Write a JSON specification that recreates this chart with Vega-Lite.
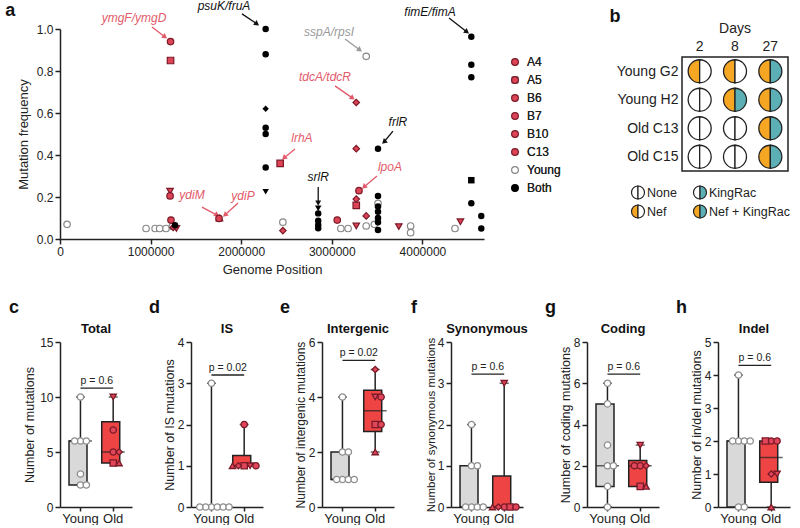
{
"$schema":"https://vega.github.io/schema/vega-lite/v6.json",
"background":"white",
"padding":{"left":5,"top":0,"right":5,"bottom":0},
"config":{"font":"Liberation Sans, Arial, sans-serif","view":{"stroke":null},
"axis":{"domainColor":"#222","tickColor":"#222","domainWidth":1.5,"tickWidth":1.5,"tickSize":5,"labelColor":"#222","titleColor":"#222","grid":false,"titleFontWeight":"normal","labelFontSize":12,"titleFontSize":13,"labelOverlap":false},
"title":{"color":"#111"},"legend":{"labelColor":"#222"}},
"datasets":{
"mut":[
{"pos":78000,"freq":0.07,"series":"Young","pop":"Young"},
{"pos":950000,"freq":0.05,"series":"Young","pop":"Young"},
{"pos":1050000,"freq":0.05,"series":"Young","pop":"Young"},
{"pos":1100000,"freq":0.05,"series":"Young","pop":"Young"},
{"pos":1170000,"freq":0.05,"series":"Young","pop":"Young"},
{"pos":1240000,"freq":0.06,"series":"Young","pop":"Young"},
{"pos":2460000,"freq":0.08,"series":"Young","pop":"Young"},
{"pos":3100000,"freq":0.05,"series":"Young","pop":"Young"},
{"pos":3180000,"freq":0.05,"series":"Young","pop":"Young"},
{"pos":3380000,"freq":0.87,"series":"Young","pop":"Young"},
{"pos":3380000,"freq":0.062,"series":"Young","pop":"Young"},
{"pos":3470000,"freq":0.07,"series":"Young","pop":"Young"},
{"pos":3510000,"freq":0.17,"series":"Young","pop":"Young"},
{"pos":3870000,"freq":0.062,"series":"Young","pop":"Young"},
{"pos":3870000,"freq":0.03,"series":"Young","pop":"Young"},
{"pos":4360000,"freq":0.05,"series":"Young","pop":"Young"},
{"pos":1220000,"freq":0.94,"series":"A4","pop":"A4"},
{"pos":1220000,"freq":0.85,"series":"A5","pop":"A5"},
{"pos":1215000,"freq":0.228,"series":"B6","pop":"B6"},
{"pos":1215000,"freq":0.205,"series":"B10","pop":"B10"},
{"pos":1225000,"freq":0.09,"series":"A4","pop":"A4"},
{"pos":1250000,"freq":0.055,"series":"B7","pop":"B7"},
{"pos":1285000,"freq":0.05,"series":"B6","pop":"B6"},
{"pos":1760000,"freq":0.1,"series":"C13","pop":"C13"},
{"pos":1755000,"freq":0.098,"series":"B10","pop":"B10"},
{"pos":2430000,"freq":0.36,"series":"A5","pop":"A5"},
{"pos":2460000,"freq":0.04,"series":"B7","pop":"B7"},
{"pos":3060000,"freq":0.09,"series":"A4","pop":"A4"},
{"pos":3270000,"freq":0.65,"series":"B7","pop":"B7"},
{"pos":3270000,"freq":0.43,"series":"B7","pop":"B7"},
{"pos":3300000,"freq":0.23,"series":"B10","pop":"B10"},
{"pos":3270000,"freq":0.19,"series":"B7","pop":"B7"},
{"pos":3270000,"freq":0.16,"series":"A5","pop":"A5"},
{"pos":3380000,"freq":0.11,"series":"B7","pop":"B7"},
{"pos":3270000,"freq":0.062,"series":"B6","pop":"B6"},
{"pos":3740000,"freq":0.059,"series":"B6","pop":"B6"},
{"pos":4420000,"freq":0.082,"series":"B6","pop":"B6"},
{"pos":1270000,"freq":0.065,"series":"Both","pop":"A4"},
{"pos":2270000,"freq":1.0,"series":"Both","pop":"A4"},
{"pos":2270000,"freq":0.88,"series":"Both","pop":"A4"},
{"pos":2270000,"freq":0.62,"series":"Both","pop":"B7"},
{"pos":2270000,"freq":0.53,"series":"Both","pop":"A4"},
{"pos":2270000,"freq":0.5,"series":"Both","pop":"A4"},
{"pos":2270000,"freq":0.34,"series":"Both","pop":"A4"},
{"pos":2270000,"freq":0.225,"series":"Both","pop":"B6"},
{"pos":2850000,"freq":0.146,"series":"Both","pop":"B6"},
{"pos":2850000,"freq":0.122,"series":"Both","pop":"A4"},
{"pos":2850000,"freq":0.087,"series":"Both","pop":"A4"},
{"pos":2850000,"freq":0.067,"series":"Both","pop":"A4"},
{"pos":2850000,"freq":0.051,"series":"Both","pop":"A4"},
{"pos":3510000,"freq":0.43,"series":"Both","pop":"A4"},
{"pos":3510000,"freq":0.205,"series":"Both","pop":"A4"},
{"pos":3510000,"freq":0.155,"series":"Both","pop":"A4"},
{"pos":3510000,"freq":0.13,"series":"Both","pop":"A4"},
{"pos":3510000,"freq":0.1,"series":"Both","pop":"A4"},
{"pos":3510000,"freq":0.08,"series":"Both","pop":"A4"},
{"pos":3510000,"freq":0.043,"series":"Both","pop":"A4"},
{"pos":4540000,"freq":0.963,"series":"Both","pop":"A4"},
{"pos":4540000,"freq":0.83,"series":"Both","pop":"A4"},
{"pos":4540000,"freq":0.77,"series":"Both","pop":"A4"},
{"pos":4540000,"freq":0.28,"series":"Both","pop":"A5"},
{"pos":4540000,"freq":0.17,"series":"Both","pop":"A4"},
{"pos":4650000,"freq":0.11,"series":"Both","pop":"A4"},
{"pos":4650000,"freq":0.05,"series":"Both","pop":"A4"}
],
"annos":[
{"label":"ymgF/ymgD","cat":"old","lx":817000,"ly":1.052,"ax":1015000,"ay":1.01,"bx":1159000,"by":0.962,"dir":"se"},
{"label":"psuK/fruA","cat":"both","lx":1810000,"ly":1.108,"ax":2009000,"ay":1.072,"bx":2174000,"by":1.024,"dir":"se"},
{"label":"ydiM","cat":"old","lx":1457000,"ly":0.21,"ax":1567000,"ay":0.152,"bx":1733000,"by":0.114,"dir":"se"},
{"label":"ydiP","cat":"old","lx":2020000,"ly":0.205,"ax":1965000,"ay":0.171,"bx":1820000,"by":0.114,"dir":"sw"},
{"label":"sspA/rpsI","cat":"young","lx":2970000,"ly":0.986,"ax":3146000,"ay":0.952,"bx":3310000,"by":0.9,"dir":"se"},
{"label":"tdcA/tdcR","cat":"old","lx":2925000,"ly":0.771,"ax":3035000,"ay":0.729,"bx":3230000,"by":0.671,"dir":"se"},
{"label":"lrhA","cat":"old","lx":2670000,"ly":0.48,"ax":2594000,"ay":0.429,"bx":2472000,"by":0.386,"dir":"sw"},
{"label":"srlR","cat":"both","lx":2850000,"ly":0.295,"ax":2850000,"ay":0.248,"bx":2850000,"by":0.171,"dir":"s"},
{"label":"frlR","cat":"both","lx":3730000,"ly":0.557,"ax":3675000,"ay":0.514,"bx":3576000,"by":0.462,"dir":"sw"},
{"label":"lpoA","cat":"old","lx":3642000,"ly":0.343,"ax":3499000,"ay":0.3,"bx":3355000,"by":0.248,"dir":"sw"},
{"label":"fimE/fimA","cat":"both","lx":4084000,"ly":1.081,"ax":4294000,"ay":1.052,"bx":4492000,"by":0.986,"dir":"se"}
],
"plasmids":[
{"line":"Young G2","day":"2","nef":"yes","kingrac":"no"},
{"line":"Young G2","day":"8","nef":"yes","kingrac":"no"},
{"line":"Young G2","day":"27","nef":"yes","kingrac":"yes"},
{"line":"Young H2","day":"2","nef":"no","kingrac":"no"},
{"line":"Young H2","day":"8","nef":"yes","kingrac":"yes"},
{"line":"Young H2","day":"27","nef":"yes","kingrac":"yes"},
{"line":"Old C13","day":"2","nef":"no","kingrac":"no"},
{"line":"Old C13","day":"8","nef":"no","kingrac":"no"},
{"line":"Old C13","day":"27","nef":"yes","kingrac":"yes"},
{"line":"Old C15","day":"2","nef":"no","kingrac":"no"},
{"line":"Old C15","day":"8","nef":"no","kingrac":"no"},
{"line":"Old C15","day":"27","nef":"yes","kingrac":"yes"}
],
"plasmidKey":[
{"state":"None","nef":"no","kingrac":"no"},
{"state":"KingRac","nef":"no","kingrac":"yes"},
{"state":"Nef","nef":"yes","kingrac":"no"},
{"state":"Nef + KingRac","nef":"yes","kingrac":"yes"}
],
"boxes":[
{"panel":"Total","group":"Young","min":2,"q1":2,"median":6,"q3":6,"max":10},
{"panel":"Total","group":"Old","min":4,"q1":4,"median":5,"q3":7.75,"max":10},
{"panel":"IS","group":"Young","min":0,"q1":0,"median":0,"q3":0,"max":3},
{"panel":"IS","group":"Old","min":1,"q1":1,"median":1,"q3":1.25,"max":2},
{"panel":"Intergenic","group":"Young","min":1,"q1":1,"median":1,"q3":2,"max":4},
{"panel":"Intergenic","group":"Old","min":2,"q1":2.75,"median":3.5,"q3":4.25,"max":5},
{"panel":"Synonymous","group":"Young","min":0,"q1":0,"median":0,"q3":1,"max":2},
{"panel":"Synonymous","group":"Old","min":0,"q1":0,"median":0,"q3":0.75,"max":3},
{"panel":"Coding","group":"Young","min":0,"q1":1,"median":2,"q3":5,"max":6},
{"panel":"Coding","group":"Old","min":1,"q1":1,"median":2,"q3":2.25,"max":3},
{"panel":"Indel","group":"Young","min":0,"q1":0,"median":2,"q3":2,"max":4},
{"panel":"Indel","group":"Old","min":0,"q1":0.75,"median":1.5,"q3":2,"max":2}
],
"pvals":[
{"panel":"Total","group":"Young","to":"Old","label":"p = 0.6","level":10.8},
{"panel":"IS","group":"Young","to":"Old","label":"p = 0.02","level":3.2},
{"panel":"Intergenic","group":"Young","to":"Old","label":"p = 0.02","level":5.33},
{"panel":"Synonymous","group":"Young","to":"Old","label":"p = 0.6","level":3.22},
{"panel":"Coding","group":"Young","to":"Old","label":"p = 0.6","level":6.44},
{"panel":"Indel","group":"Young","to":"Old","label":"p = 0.6","level":4.29}
],
"pts":[
{"panel":"Total","group":"Young","pop":"Young","value":10},
{"panel":"Total","group":"Young","pop":"Young","value":6},
{"panel":"Total","group":"Young","pop":"Young","value":6},
{"panel":"Total","group":"Young","pop":"Young","value":6},
{"panel":"Total","group":"Young","pop":"Young","value":3},
{"panel":"Total","group":"Young","pop":"Young","value":2},
{"panel":"Total","group":"Young","pop":"Young","value":2},
{"panel":"Total","group":"Old","pop":"B6","value":10},
{"panel":"Total","group":"Old","pop":"A4","value":7},
{"panel":"Total","group":"Old","pop":"B10","value":5},
{"panel":"Total","group":"Old","pop":"B7","value":5},
{"panel":"Total","group":"Old","pop":"A5","value":4},
{"panel":"Total","group":"Old","pop":"C13","value":4},
{"panel":"IS","group":"Young","pop":"Young","value":3},
{"panel":"IS","group":"Young","pop":"Young","value":0},
{"panel":"IS","group":"Young","pop":"Young","value":0},
{"panel":"IS","group":"Young","pop":"Young","value":0},
{"panel":"IS","group":"Young","pop":"Young","value":0},
{"panel":"IS","group":"Young","pop":"Young","value":0},
{"panel":"IS","group":"Young","pop":"Young","value":0},
{"panel":"IS","group":"Old","pop":"A4","value":2},
{"panel":"IS","group":"Old","pop":"A5","value":1},
{"panel":"IS","group":"Old","pop":"B6","value":1},
{"panel":"IS","group":"Old","pop":"B7","value":1},
{"panel":"IS","group":"Old","pop":"B10","value":1},
{"panel":"IS","group":"Old","pop":"C13","value":1},
{"panel":"Intergenic","group":"Young","pop":"Young","value":4},
{"panel":"Intergenic","group":"Young","pop":"Young","value":2},
{"panel":"Intergenic","group":"Young","pop":"Young","value":2},
{"panel":"Intergenic","group":"Young","pop":"Young","value":1},
{"panel":"Intergenic","group":"Young","pop":"Young","value":1},
{"panel":"Intergenic","group":"Young","pop":"Young","value":1},
{"panel":"Intergenic","group":"Young","pop":"Young","value":1},
{"panel":"Intergenic","group":"Old","pop":"B7","value":5},
{"panel":"Intergenic","group":"Old","pop":"B6","value":4},
{"panel":"Intergenic","group":"Old","pop":"A4","value":4},
{"panel":"Intergenic","group":"Old","pop":"A5","value":3},
{"panel":"Intergenic","group":"Old","pop":"B10","value":3},
{"panel":"Intergenic","group":"Old","pop":"C13","value":2},
{"panel":"Synonymous","group":"Young","pop":"Young","value":2},
{"panel":"Synonymous","group":"Young","pop":"Young","value":1},
{"panel":"Synonymous","group":"Young","pop":"Young","value":1},
{"panel":"Synonymous","group":"Young","pop":"Young","value":0},
{"panel":"Synonymous","group":"Young","pop":"Young","value":0},
{"panel":"Synonymous","group":"Young","pop":"Young","value":0},
{"panel":"Synonymous","group":"Young","pop":"Young","value":0},
{"panel":"Synonymous","group":"Old","pop":"B6","value":3},
{"panel":"Synonymous","group":"Old","pop":"A4","value":0},
{"panel":"Synonymous","group":"Old","pop":"A5","value":0},
{"panel":"Synonymous","group":"Old","pop":"B7","value":0},
{"panel":"Synonymous","group":"Old","pop":"B10","value":0},
{"panel":"Synonymous","group":"Old","pop":"C13","value":0},
{"panel":"Coding","group":"Young","pop":"Young","value":6},
{"panel":"Coding","group":"Young","pop":"Young","value":5},
{"panel":"Coding","group":"Young","pop":"Young","value":3},
{"panel":"Coding","group":"Young","pop":"Young","value":2},
{"panel":"Coding","group":"Young","pop":"Young","value":2},
{"panel":"Coding","group":"Young","pop":"Young","value":1},
{"panel":"Coding","group":"Young","pop":"Young","value":0},
{"panel":"Coding","group":"Old","pop":"B6","value":3},
{"panel":"Coding","group":"Old","pop":"A4","value":2},
{"panel":"Coding","group":"Old","pop":"B7","value":2},
{"panel":"Coding","group":"Old","pop":"B10","value":2},
{"panel":"Coding","group":"Old","pop":"A5","value":1},
{"panel":"Coding","group":"Old","pop":"C13","value":1},
{"panel":"Indel","group":"Young","pop":"Young","value":4},
{"panel":"Indel","group":"Young","pop":"Young","value":2},
{"panel":"Indel","group":"Young","pop":"Young","value":2},
{"panel":"Indel","group":"Young","pop":"Young","value":2},
{"panel":"Indel","group":"Young","pop":"Young","value":2},
{"panel":"Indel","group":"Young","pop":"Young","value":0},
{"panel":"Indel","group":"Young","pop":"Young","value":0},
{"panel":"Indel","group":"Old","pop":"A4","value":2},
{"panel":"Indel","group":"Old","pop":"B10","value":2},
{"panel":"Indel","group":"Old","pop":"A5","value":2},
{"panel":"Indel","group":"Old","pop":"B7","value":1},
{"panel":"Indel","group":"Old","pop":"B6","value":1},
{"panel":"Indel","group":"Old","pop":"C13","value":0}
]
},
"resolve":{"scale":{"color":"independent","fill":"independent","stroke":"independent","shape":"independent"}},
"spacing":23,
"vconcat":[
{"concat":[
{
"title":{"text":"a","anchor":"start","fontSize":18,"fontWeight":"bold","dx":-12,"offset":-20},
"width":424,"height":210,
"resolve":{"scale":{"shape":"independent"}},
"layer":[
{"data":{"name":"annos"},"mark":{"type":"rule","strokeWidth":1.3},
"encoding":{
"x":{"field":"ax","type":"quantitative","scale":{"domain":[0,4680000],"nice":false,"zero":false},"axis":{"title":"Genome Position","values":[0,1000000,2000000,3000000,4000000],"format":"d","labelFlush":false,"labelFontSize":12,"titleFontSize":13,"titlePadding":6}},
"y":{"field":"ay","type":"quantitative","scale":{"domain":[0,1],"nice":false},"axis":{"title":"Mutation frequency","values":[0,0.2,0.4,0.6,0.8,1],"format":".1f","labelFontSize":12,"titleFontSize":13,"titlePadding":6}},
"x2":{"field":"bx"},"y2":{"field":"by"},
"color":{"field":"cat","type":"nominal","scale":{"domain":["old","young","both"],"range":["#E25A6A","#9A9A9A","#111111"]},"legend":null}}},
{"data":{"name":"annos"},"mark":{"type":"point","shape":"triangle-right","filled":true,"size":35,"opacity":1},
"encoding":{
"x":{"field":"bx","type":"quantitative","scale":{"domain":[0,4680000],"nice":false,"zero":false}},
"y":{"field":"by","type":"quantitative","scale":{"domain":[0,1],"nice":false}},
"angle":{"condition":[{"test":"datum.dir === 'sw'","value":138},{"test":"datum.dir === 's'","value":90}],"value":36},
"color":{"field":"cat","type":"nominal","scale":{"domain":["old","young","both"],"range":["#E25A6A","#9A9A9A","#111111"]},"legend":null}}},
{"data":{"name":"annos"},"mark":{"type":"text","fontStyle":"italic","fontSize":12},
"encoding":{
"x":{"field":"lx","type":"quantitative","scale":{"domain":[0,4680000],"nice":false,"zero":false}},
"y":{"field":"ly","type":"quantitative","scale":{"domain":[0,1],"nice":false}},
"text":{"field":"label"},
"color":{"field":"cat","type":"nominal","scale":{"domain":["old","young","both"],"range":["#E25A6A","#9A9A9A","#111111"]},"legend":null}}},
{"data":{"name":"mut"},"transform":[{"filter":"datum.series !== 'Both'"}],
"mark":{"type":"point","size":42,"strokeWidth":1.2,"opacity":1},
"encoding":{
"x":{"field":"pos","type":"quantitative","scale":{"domain":[0,4680000],"nice":false,"zero":false}},
"y":{"field":"freq","type":"quantitative","scale":{"domain":[0,1],"nice":false}},
"shape":{"field":"series","type":"nominal","scale":{"domain":["A4","A5","B6","B7","B10","C13","Young","Both"],"range":["circle","square","triangle-down","diamond","circle","triangle-up","circle","circle"]},"legend":{"title":null,"orient":"none","legendX":449,"legendY":27,"labelFontSize":12,"symbolSize":45,"rowPadding":6,"symbolStrokeWidth":1.2,"labelOffset":6}},
"fill":{"field":"series","type":"nominal","scale":{"domain":["A4","A5","B6","B7","B10","C13","Young","Both"],"range":["#DD4455","#DD4455","#DD4455","#DD4455","#DD4455","#DD4455","#ffffff","#000000"]},"legend":{"title":null,"orient":"none","legendX":449,"legendY":27,"labelFontSize":12,"symbolSize":45,"rowPadding":6,"symbolStrokeWidth":1.2,"labelOffset":6}},
"stroke":{"field":"series","type":"nominal","scale":{"domain":["A4","A5","B6","B7","B10","C13","Young","Both"],"range":["#7A1A28","#7A1A28","#7A1A28","#7A1A28","#7A1A28","#7A1A28","#888888","#000000"]},"legend":{"title":null,"orient":"none","legendX":449,"legendY":27,"labelFontSize":12,"symbolSize":45,"rowPadding":6,"symbolStrokeWidth":1.2,"labelOffset":6}}}},
{"data":{"name":"mut"},"transform":[{"filter":"datum.series === 'Both'"}],
"mark":{"type":"point","size":42,"filled":true,"color":"#000000","opacity":1},
"encoding":{
"x":{"field":"pos","type":"quantitative","scale":{"domain":[0,4680000],"nice":false,"zero":false}},
"y":{"field":"freq","type":"quantitative","scale":{"domain":[0,1],"nice":false}},
"shape":{"field":"pop","type":"nominal","scale":{"domain":["A4","A5","B6","B7","B10","C13"],"range":["circle","square","triangle-down","diamond","circle","triangle-up"]},"legend":null}}}
]},
{
"title":{"text":"b","anchor":"start","fontSize":18,"fontWeight":"bold","dx":-6,"offset":-4},
"spacing":0,
"vconcat":[
{"width":106,"height":27,"data":{"name":"plasmids"},"transform":[{"filter":"datum.line === 'Young G2'"}],
"title":{"text":"Days","fontSize":14,"fontWeight":"normal","offset":-7,"color":"#222"},
"mark":{"type":"text","fontSize":14,"baseline":"middle","dy":4,"color":"#222"},
"encoding":{"x":{"field":"day","type":"ordinal","sort":["2","8","27"],"scale":{"type":"point","padding":0.5},"axis":null},"text":{"field":"day"}}},
{"width":106,"height":114,"data":{"name":"plasmids"},
"view":{"stroke":"#222","strokeWidth":1.5},
"encoding":{
"x":{"field":"day","type":"ordinal","sort":["2","8","27"],"scale":{"type":"point","padding":0.5},"axis":null},
"y":{"field":"line","type":"nominal","sort":["Young G2","Young H2","Old C13","Old C15"],"scale":{"type":"point","padding":0.5},"axis":{"title":null,"domain":false,"ticks":false,"labelFontSize":14,"labelPadding":4}}},
"layer":[
{"mark":{"type":"arc","radius":11.5,"theta":3.14159265,"theta2":6.28318531,"stroke":"#222","strokeWidth":1.3},
"encoding":{"fill":{"condition":{"test":"datum.nef === 'yes'","value":"#F5A623"},"value":"#ffffff"}}},
{"mark":{"type":"arc","radius":11.5,"theta":0,"theta2":3.14159265,"stroke":"#222","strokeWidth":1.3},
"encoding":{"fill":{"condition":{"test":"datum.kingrac === 'yes'","value":"#5BAFB5"},"value":"#ffffff"}}}
]},
{"width":60,"height":46,"data":{"name":"plasmidKey"},
"encoding":{
"x":{"field":"kingrac","type":"nominal","scale":{"type":"point","domain":["no","yes"],"range":[-44,18],"padding":0},"axis":null},
"y":{"field":"nef","type":"nominal","scale":{"type":"point","domain":["no","yes"],"range":[20.5,39.5],"padding":0},"axis":null}},
"layer":[
{"mark":{"type":"arc","radius":6.5,"theta":3.14159265,"theta2":6.28318531,"stroke":"#222","strokeWidth":1.2},
"encoding":{"fill":{"condition":{"test":"datum.nef === 'yes'","value":"#F5A623"},"value":"#ffffff"}}},
{"mark":{"type":"arc","radius":6.5,"theta":0,"theta2":3.14159265,"stroke":"#222","strokeWidth":1.2},
"encoding":{"fill":{"condition":{"test":"datum.kingrac === 'yes'","value":"#5BAFB5"},"value":"#ffffff"}}},
{"mark":{"type":"text","align":"left","dx":9,"fontSize":12.5,"color":"#222"},"encoding":{"text":{"field":"state"}}}
]}
]}
],"columns":2,"align":"none","spacing":48},
{"spacing":17,"hconcat":[
{"title":{"text":"c","anchor":"start","fontSize":18,"fontWeight":"bold","dx":-14,"offset":6},
"vconcat":[{"title":{"text":"Total","fontSize":13,"fontWeight":"bold","offset":0},"width":72,"height":165,
"encoding":{"x":{"field":"group","type":"nominal","scale":{"type":"band","domain":["Young","Old"],"paddingInner":0.3,"paddingOuter":0.25,"align":0.55},"axis":{"title":null,"labelAngle":0,"labelFontSize":13,"labelPadding":1,"tickSize":4}}},
"layer":[
{"data":{"name":"boxes"},"transform":[{"filter":"datum.panel === 'Total'"}],"mark":{"type":"rule","color":"#222","strokeWidth":1.5},"encoding":{"y":{"field":"min","type":"quantitative","scale":{"domain":[0,15],"nice":false},"axis":{"title":"Number of mutations","values":[0,5,10,15],"titleFontSize":12.5,"labelFontSize":12,"titleX":-24}},"y2":{"field":"max"}}},
{"data":{"name":"boxes"},"transform":[{"filter":"datum.panel === 'Total'"}],"mark":{"type":"bar","stroke":"#222","strokeWidth":1.5},"encoding":{"y":{"field":"q1","type":"quantitative","scale":{"domain":[0,15],"nice":false},"axis":{"title":"Number of mutations","values":[0,5,10,15],"titleFontSize":12.5,"labelFontSize":12,"titleX":-24}},"y2":{"field":"q3"},"color":{"condition":{"test":"datum.group === 'Young'","value":"#D9D9D9"},"value":"#EF4444"}}},
{"data":{"name":"boxes"},"transform":[{"filter":"datum.panel === 'Total'"}],"mark":{"type":"tick","color":"#222","thickness":1.5,"size":23},"encoding":{"y":{"field":"median","type":"quantitative","scale":{"domain":[0,15],"nice":false},"axis":{"title":"Number of mutations","values":[0,5,10,15],"titleFontSize":12.5,"labelFontSize":12,"titleX":-24}}}},
{"data":{"name":"boxes"},"transform":[{"filter":"datum.panel === 'Total'"}],"mark":{"type":"tick","color":"#222","thickness":1.5,"size":9},"encoding":{"y":{"field":"max","type":"quantitative","scale":{"domain":[0,15],"nice":false},"axis":{"title":"Number of mutations","values":[0,5,10,15],"titleFontSize":12.5,"labelFontSize":12,"titleX":-24}}}},
{"data":{"name":"boxes"},"transform":[{"filter":"datum.panel === 'Total'"}],"mark":{"type":"tick","color":"#222","thickness":1.5,"size":9},"encoding":{"y":{"field":"min","type":"quantitative","scale":{"domain":[0,15],"nice":false},"axis":{"title":"Number of mutations","values":[0,5,10,15],"titleFontSize":12.5,"labelFontSize":12,"titleX":-24}}}},
{"data":{"name":"pvals"},"transform":[{"filter":"datum.panel === 'Total'"}],"mark":{"type":"rule","color":"#222","strokeWidth":1.3},"encoding":{"x2":{"field":"to"},"y":{"field":"level","type":"quantitative","scale":{"domain":[0,15],"nice":false},"axis":{"title":"Number of mutations","values":[0,5,10,15],"titleFontSize":12.5,"labelFontSize":12,"titleX":-24}}}},
{"data":{"name":"pvals"},"transform":[{"filter":"datum.panel === 'Total'"}],"mark":{"type":"text","fontSize":10.5,"baseline":"bottom","dy":-2,"color":"#222"},"encoding":{"x":{"field":"group","type":"nominal","bandPosition":1.214},"y":{"field":"level","type":"quantitative","scale":{"domain":[0,15],"nice":false},"axis":{"title":"Number of mutations","values":[0,5,10,15],"titleFontSize":12.5,"labelFontSize":12,"titleX":-24}},"text":{"field":"label"}}},
{"data":{"name":"pts"},"transform":[{"filter":"datum.panel === 'Total'"},{"window":[{"op":"row_number","as":"k"}],"groupby":["group","value"]}],"mark":{"type":"point","size":40,"strokeWidth":1.3,"opacity":1},"encoding":{"xOffset":{"field":"k","type":"nominal","scale":{"domain":[7,5,3,1,2,4,6],"range":[-9,32]}},"y":{"field":"value","type":"quantitative","scale":{"domain":[0,15],"nice":false},"axis":{"title":"Number of mutations","values":[0,5,10,15],"titleFontSize":12.5,"labelFontSize":12,"titleX":-24}},"shape":{"field":"pop","type":"nominal","scale":{"domain":["Young","A4","A5","B6","B7","B10","C13"],"range":["circle","circle","square","triangle-down","diamond","circle","triangle-up"]},"legend":null},"fill":{"condition":{"test":"datum.group === 'Young'","value":"#ffffff"},"value":"#E0455A"},"stroke":{"condition":{"test":"datum.group === 'Young'","value":"#8C8C8C"},"value":"#7A1A28"}}}
]}]},
{"title":{"text":"d","anchor":"start","fontSize":18,"fontWeight":"bold","dx":-14,"offset":6},
"vconcat":[{"title":{"text":"IS","fontSize":13,"fontWeight":"bold","offset":0},"width":72,"height":165,
"encoding":{"x":{"field":"group","type":"nominal","scale":{"type":"band","domain":["Young","Old"],"paddingInner":0.3,"paddingOuter":0.25,"align":0.55},"axis":{"title":null,"labelAngle":0,"labelFontSize":13,"labelPadding":1,"tickSize":4}}},
"layer":[
{"data":{"name":"boxes"},"transform":[{"filter":"datum.panel === 'IS'"}],"mark":{"type":"rule","color":"#222","strokeWidth":1.5},"encoding":{"y":{"field":"min","type":"quantitative","scale":{"domain":[0,4],"nice":false},"axis":{"title":"Number of IS mutations","values":[0,1,2,3,4],"titleFontSize":12.5,"labelFontSize":12,"titleX":-15}},"y2":{"field":"max"}}},
{"data":{"name":"boxes"},"transform":[{"filter":"datum.panel === 'IS'"}],"mark":{"type":"bar","stroke":"#222","strokeWidth":1.5},"encoding":{"y":{"field":"q1","type":"quantitative","scale":{"domain":[0,4],"nice":false},"axis":{"title":"Number of IS mutations","values":[0,1,2,3,4],"titleFontSize":12.5,"labelFontSize":12,"titleX":-15}},"y2":{"field":"q3"},"color":{"condition":{"test":"datum.group === 'Young'","value":"#D9D9D9"},"value":"#EF4444"}}},
{"data":{"name":"boxes"},"transform":[{"filter":"datum.panel === 'IS'"}],"mark":{"type":"tick","color":"#222","thickness":1.5,"size":23},"encoding":{"y":{"field":"median","type":"quantitative","scale":{"domain":[0,4],"nice":false},"axis":{"title":"Number of IS mutations","values":[0,1,2,3,4],"titleFontSize":12.5,"labelFontSize":12,"titleX":-15}}}},
{"data":{"name":"boxes"},"transform":[{"filter":"datum.panel === 'IS'"}],"mark":{"type":"tick","color":"#222","thickness":1.5,"size":9},"encoding":{"y":{"field":"max","type":"quantitative","scale":{"domain":[0,4],"nice":false},"axis":{"title":"Number of IS mutations","values":[0,1,2,3,4],"titleFontSize":12.5,"labelFontSize":12,"titleX":-15}}}},
{"data":{"name":"boxes"},"transform":[{"filter":"datum.panel === 'IS'"}],"mark":{"type":"tick","color":"#222","thickness":1.5,"size":9},"encoding":{"y":{"field":"min","type":"quantitative","scale":{"domain":[0,4],"nice":false},"axis":{"title":"Number of IS mutations","values":[0,1,2,3,4],"titleFontSize":12.5,"labelFontSize":12,"titleX":-15}}}},
{"data":{"name":"pvals"},"transform":[{"filter":"datum.panel === 'IS'"}],"mark":{"type":"rule","color":"#222","strokeWidth":1.3},"encoding":{"x2":{"field":"to"},"y":{"field":"level","type":"quantitative","scale":{"domain":[0,4],"nice":false},"axis":{"title":"Number of IS mutations","values":[0,1,2,3,4],"titleFontSize":12.5,"labelFontSize":12,"titleX":-15}}}},
{"data":{"name":"pvals"},"transform":[{"filter":"datum.panel === 'IS'"}],"mark":{"type":"text","fontSize":10.5,"baseline":"bottom","dy":-2,"color":"#222"},"encoding":{"x":{"field":"group","type":"nominal","bandPosition":1.214},"y":{"field":"level","type":"quantitative","scale":{"domain":[0,4],"nice":false},"axis":{"title":"Number of IS mutations","values":[0,1,2,3,4],"titleFontSize":12.5,"labelFontSize":12,"titleX":-15}},"text":{"field":"label"}}},
{"data":{"name":"pts"},"transform":[{"filter":"datum.panel === 'IS'"},{"window":[{"op":"row_number","as":"k"}],"groupby":["group","value"]}],"mark":{"type":"point","size":40,"strokeWidth":1.3,"opacity":1},"encoding":{"xOffset":{"field":"k","type":"nominal","scale":{"domain":[7,5,3,1,2,4,6],"range":[-9,32]}},"y":{"field":"value","type":"quantitative","scale":{"domain":[0,4],"nice":false},"axis":{"title":"Number of IS mutations","values":[0,1,2,3,4],"titleFontSize":12.5,"labelFontSize":12,"titleX":-15}},"shape":{"field":"pop","type":"nominal","scale":{"domain":["Young","A4","A5","B6","B7","B10","C13"],"range":["circle","circle","square","triangle-down","diamond","circle","triangle-up"]},"legend":null},"fill":{"condition":{"test":"datum.group === 'Young'","value":"#ffffff"},"value":"#E0455A"},"stroke":{"condition":{"test":"datum.group === 'Young'","value":"#8C8C8C"},"value":"#7A1A28"}}}
]}]},
{"title":{"text":"e","anchor":"start","fontSize":18,"fontWeight":"bold","dx":-14,"offset":6},
"vconcat":[{"title":{"text":"Intergenic","fontSize":13,"fontWeight":"bold","offset":0},"width":72,"height":165,
"encoding":{"x":{"field":"group","type":"nominal","scale":{"type":"band","domain":["Young","Old"],"paddingInner":0.3,"paddingOuter":0.25,"align":0.55},"axis":{"title":null,"labelAngle":0,"labelFontSize":13,"labelPadding":1,"tickSize":4}}},
"layer":[
{"data":{"name":"boxes"},"transform":[{"filter":"datum.panel === 'Intergenic'"}],"mark":{"type":"rule","color":"#222","strokeWidth":1.5},"encoding":{"y":{"field":"min","type":"quantitative","scale":{"domain":[0,6],"nice":false},"axis":{"title":"Number of intergenic mutations","values":[0,2,4,6],"titleFontSize":12,"labelFontSize":12,"titleX":-15}},"y2":{"field":"max"}}},
{"data":{"name":"boxes"},"transform":[{"filter":"datum.panel === 'Intergenic'"}],"mark":{"type":"bar","stroke":"#222","strokeWidth":1.5},"encoding":{"y":{"field":"q1","type":"quantitative","scale":{"domain":[0,6],"nice":false},"axis":{"title":"Number of intergenic mutations","values":[0,2,4,6],"titleFontSize":12,"labelFontSize":12,"titleX":-15}},"y2":{"field":"q3"},"color":{"condition":{"test":"datum.group === 'Young'","value":"#D9D9D9"},"value":"#EF4444"}}},
{"data":{"name":"boxes"},"transform":[{"filter":"datum.panel === 'Intergenic'"}],"mark":{"type":"tick","color":"#222","thickness":1.5,"size":23},"encoding":{"y":{"field":"median","type":"quantitative","scale":{"domain":[0,6],"nice":false},"axis":{"title":"Number of intergenic mutations","values":[0,2,4,6],"titleFontSize":12,"labelFontSize":12,"titleX":-15}}}},
{"data":{"name":"boxes"},"transform":[{"filter":"datum.panel === 'Intergenic'"}],"mark":{"type":"tick","color":"#222","thickness":1.5,"size":9},"encoding":{"y":{"field":"max","type":"quantitative","scale":{"domain":[0,6],"nice":false},"axis":{"title":"Number of intergenic mutations","values":[0,2,4,6],"titleFontSize":12,"labelFontSize":12,"titleX":-15}}}},
{"data":{"name":"boxes"},"transform":[{"filter":"datum.panel === 'Intergenic'"}],"mark":{"type":"tick","color":"#222","thickness":1.5,"size":9},"encoding":{"y":{"field":"min","type":"quantitative","scale":{"domain":[0,6],"nice":false},"axis":{"title":"Number of intergenic mutations","values":[0,2,4,6],"titleFontSize":12,"labelFontSize":12,"titleX":-15}}}},
{"data":{"name":"pvals"},"transform":[{"filter":"datum.panel === 'Intergenic'"}],"mark":{"type":"rule","color":"#222","strokeWidth":1.3},"encoding":{"x2":{"field":"to"},"y":{"field":"level","type":"quantitative","scale":{"domain":[0,6],"nice":false},"axis":{"title":"Number of intergenic mutations","values":[0,2,4,6],"titleFontSize":12,"labelFontSize":12,"titleX":-15}}}},
{"data":{"name":"pvals"},"transform":[{"filter":"datum.panel === 'Intergenic'"}],"mark":{"type":"text","fontSize":10.5,"baseline":"bottom","dy":-2,"color":"#222"},"encoding":{"x":{"field":"group","type":"nominal","bandPosition":1.214},"y":{"field":"level","type":"quantitative","scale":{"domain":[0,6],"nice":false},"axis":{"title":"Number of intergenic mutations","values":[0,2,4,6],"titleFontSize":12,"labelFontSize":12,"titleX":-15}},"text":{"field":"label"}}},
{"data":{"name":"pts"},"transform":[{"filter":"datum.panel === 'Intergenic'"},{"window":[{"op":"row_number","as":"k"}],"groupby":["group","value"]}],"mark":{"type":"point","size":40,"strokeWidth":1.3,"opacity":1},"encoding":{"xOffset":{"field":"k","type":"nominal","scale":{"domain":[7,5,3,1,2,4,6],"range":[-9,32]}},"y":{"field":"value","type":"quantitative","scale":{"domain":[0,6],"nice":false},"axis":{"title":"Number of intergenic mutations","values":[0,2,4,6],"titleFontSize":12,"labelFontSize":12,"titleX":-15}},"shape":{"field":"pop","type":"nominal","scale":{"domain":["Young","A4","A5","B6","B7","B10","C13"],"range":["circle","circle","square","triangle-down","diamond","circle","triangle-up"]},"legend":null},"fill":{"condition":{"test":"datum.group === 'Young'","value":"#ffffff"},"value":"#E0455A"},"stroke":{"condition":{"test":"datum.group === 'Young'","value":"#8C8C8C"},"value":"#7A1A28"}}}
]}]},
{"title":{"text":"f","anchor":"start","fontSize":18,"fontWeight":"bold","dx":-14,"offset":6},
"vconcat":[{"title":{"text":"Synonymous","fontSize":13,"fontWeight":"bold","offset":0},"width":72,"height":165,
"encoding":{"x":{"field":"group","type":"nominal","scale":{"type":"band","domain":["Young","Old"],"paddingInner":0.3,"paddingOuter":0.25,"align":0.55},"axis":{"title":null,"labelAngle":0,"labelFontSize":13,"labelPadding":1,"tickSize":4}}},
"layer":[
{"data":{"name":"boxes"},"transform":[{"filter":"datum.panel === 'Synonymous'"}],"mark":{"type":"rule","color":"#222","strokeWidth":1.5},"encoding":{"y":{"field":"min","type":"quantitative","scale":{"domain":[0,4],"nice":false},"axis":{"title":"Number of synonymous mutations","values":[0,1,2,3,4],"titleFontSize":11.5,"labelFontSize":12,"titleX":-15}},"y2":{"field":"max"}}},
{"data":{"name":"boxes"},"transform":[{"filter":"datum.panel === 'Synonymous'"}],"mark":{"type":"bar","stroke":"#222","strokeWidth":1.5},"encoding":{"y":{"field":"q1","type":"quantitative","scale":{"domain":[0,4],"nice":false},"axis":{"title":"Number of synonymous mutations","values":[0,1,2,3,4],"titleFontSize":11.5,"labelFontSize":12,"titleX":-15}},"y2":{"field":"q3"},"color":{"condition":{"test":"datum.group === 'Young'","value":"#D9D9D9"},"value":"#EF4444"}}},
{"data":{"name":"boxes"},"transform":[{"filter":"datum.panel === 'Synonymous'"}],"mark":{"type":"tick","color":"#222","thickness":1.5,"size":23},"encoding":{"y":{"field":"median","type":"quantitative","scale":{"domain":[0,4],"nice":false},"axis":{"title":"Number of synonymous mutations","values":[0,1,2,3,4],"titleFontSize":11.5,"labelFontSize":12,"titleX":-15}}}},
{"data":{"name":"boxes"},"transform":[{"filter":"datum.panel === 'Synonymous'"}],"mark":{"type":"tick","color":"#222","thickness":1.5,"size":9},"encoding":{"y":{"field":"max","type":"quantitative","scale":{"domain":[0,4],"nice":false},"axis":{"title":"Number of synonymous mutations","values":[0,1,2,3,4],"titleFontSize":11.5,"labelFontSize":12,"titleX":-15}}}},
{"data":{"name":"boxes"},"transform":[{"filter":"datum.panel === 'Synonymous'"}],"mark":{"type":"tick","color":"#222","thickness":1.5,"size":9},"encoding":{"y":{"field":"min","type":"quantitative","scale":{"domain":[0,4],"nice":false},"axis":{"title":"Number of synonymous mutations","values":[0,1,2,3,4],"titleFontSize":11.5,"labelFontSize":12,"titleX":-15}}}},
{"data":{"name":"pvals"},"transform":[{"filter":"datum.panel === 'Synonymous'"}],"mark":{"type":"rule","color":"#222","strokeWidth":1.3},"encoding":{"x2":{"field":"to"},"y":{"field":"level","type":"quantitative","scale":{"domain":[0,4],"nice":false},"axis":{"title":"Number of synonymous mutations","values":[0,1,2,3,4],"titleFontSize":11.5,"labelFontSize":12,"titleX":-15}}}},
{"data":{"name":"pvals"},"transform":[{"filter":"datum.panel === 'Synonymous'"}],"mark":{"type":"text","fontSize":10.5,"baseline":"bottom","dy":-2,"color":"#222"},"encoding":{"x":{"field":"group","type":"nominal","bandPosition":1.214},"y":{"field":"level","type":"quantitative","scale":{"domain":[0,4],"nice":false},"axis":{"title":"Number of synonymous mutations","values":[0,1,2,3,4],"titleFontSize":11.5,"labelFontSize":12,"titleX":-15}},"text":{"field":"label"}}},
{"data":{"name":"pts"},"transform":[{"filter":"datum.panel === 'Synonymous'"},{"window":[{"op":"row_number","as":"k"}],"groupby":["group","value"]}],"mark":{"type":"point","size":40,"strokeWidth":1.3,"opacity":1},"encoding":{"xOffset":{"field":"k","type":"nominal","scale":{"domain":[7,5,3,1,2,4,6],"range":[-9,32]}},"y":{"field":"value","type":"quantitative","scale":{"domain":[0,4],"nice":false},"axis":{"title":"Number of synonymous mutations","values":[0,1,2,3,4],"titleFontSize":11.5,"labelFontSize":12,"titleX":-15}},"shape":{"field":"pop","type":"nominal","scale":{"domain":["Young","A4","A5","B6","B7","B10","C13"],"range":["circle","circle","square","triangle-down","diamond","circle","triangle-up"]},"legend":null},"fill":{"condition":{"test":"datum.group === 'Young'","value":"#ffffff"},"value":"#E0455A"},"stroke":{"condition":{"test":"datum.group === 'Young'","value":"#8C8C8C"},"value":"#7A1A28"}}}
]}]},
{"title":{"text":"g","anchor":"start","fontSize":18,"fontWeight":"bold","dx":-14,"offset":6},
"vconcat":[{"title":{"text":"Coding","fontSize":13,"fontWeight":"bold","offset":0},"width":72,"height":165,
"encoding":{"x":{"field":"group","type":"nominal","scale":{"type":"band","domain":["Young","Old"],"paddingInner":0.3,"paddingOuter":0.25,"align":0.55},"axis":{"title":null,"labelAngle":0,"labelFontSize":13,"labelPadding":1,"tickSize":4}}},
"layer":[
{"data":{"name":"boxes"},"transform":[{"filter":"datum.panel === 'Coding'"}],"mark":{"type":"rule","color":"#222","strokeWidth":1.5},"encoding":{"y":{"field":"min","type":"quantitative","scale":{"domain":[0,8],"nice":false},"axis":{"title":"Number of coding mutations","values":[0,2,4,6,8],"titleFontSize":12.5,"labelFontSize":12,"titleX":-15}},"y2":{"field":"max"}}},
{"data":{"name":"boxes"},"transform":[{"filter":"datum.panel === 'Coding'"}],"mark":{"type":"bar","stroke":"#222","strokeWidth":1.5},"encoding":{"y":{"field":"q1","type":"quantitative","scale":{"domain":[0,8],"nice":false},"axis":{"title":"Number of coding mutations","values":[0,2,4,6,8],"titleFontSize":12.5,"labelFontSize":12,"titleX":-15}},"y2":{"field":"q3"},"color":{"condition":{"test":"datum.group === 'Young'","value":"#D9D9D9"},"value":"#EF4444"}}},
{"data":{"name":"boxes"},"transform":[{"filter":"datum.panel === 'Coding'"}],"mark":{"type":"tick","color":"#222","thickness":1.5,"size":23},"encoding":{"y":{"field":"median","type":"quantitative","scale":{"domain":[0,8],"nice":false},"axis":{"title":"Number of coding mutations","values":[0,2,4,6,8],"titleFontSize":12.5,"labelFontSize":12,"titleX":-15}}}},
{"data":{"name":"boxes"},"transform":[{"filter":"datum.panel === 'Coding'"}],"mark":{"type":"tick","color":"#222","thickness":1.5,"size":9},"encoding":{"y":{"field":"max","type":"quantitative","scale":{"domain":[0,8],"nice":false},"axis":{"title":"Number of coding mutations","values":[0,2,4,6,8],"titleFontSize":12.5,"labelFontSize":12,"titleX":-15}}}},
{"data":{"name":"boxes"},"transform":[{"filter":"datum.panel === 'Coding'"}],"mark":{"type":"tick","color":"#222","thickness":1.5,"size":9},"encoding":{"y":{"field":"min","type":"quantitative","scale":{"domain":[0,8],"nice":false},"axis":{"title":"Number of coding mutations","values":[0,2,4,6,8],"titleFontSize":12.5,"labelFontSize":12,"titleX":-15}}}},
{"data":{"name":"pvals"},"transform":[{"filter":"datum.panel === 'Coding'"}],"mark":{"type":"rule","color":"#222","strokeWidth":1.3},"encoding":{"x2":{"field":"to"},"y":{"field":"level","type":"quantitative","scale":{"domain":[0,8],"nice":false},"axis":{"title":"Number of coding mutations","values":[0,2,4,6,8],"titleFontSize":12.5,"labelFontSize":12,"titleX":-15}}}},
{"data":{"name":"pvals"},"transform":[{"filter":"datum.panel === 'Coding'"}],"mark":{"type":"text","fontSize":10.5,"baseline":"bottom","dy":-2,"color":"#222"},"encoding":{"x":{"field":"group","type":"nominal","bandPosition":1.214},"y":{"field":"level","type":"quantitative","scale":{"domain":[0,8],"nice":false},"axis":{"title":"Number of coding mutations","values":[0,2,4,6,8],"titleFontSize":12.5,"labelFontSize":12,"titleX":-15}},"text":{"field":"label"}}},
{"data":{"name":"pts"},"transform":[{"filter":"datum.panel === 'Coding'"},{"window":[{"op":"row_number","as":"k"}],"groupby":["group","value"]}],"mark":{"type":"point","size":40,"strokeWidth":1.3,"opacity":1},"encoding":{"xOffset":{"field":"k","type":"nominal","scale":{"domain":[7,5,3,1,2,4,6],"range":[-9,32]}},"y":{"field":"value","type":"quantitative","scale":{"domain":[0,8],"nice":false},"axis":{"title":"Number of coding mutations","values":[0,2,4,6,8],"titleFontSize":12.5,"labelFontSize":12,"titleX":-15}},"shape":{"field":"pop","type":"nominal","scale":{"domain":["Young","A4","A5","B6","B7","B10","C13"],"range":["circle","circle","square","triangle-down","diamond","circle","triangle-up"]},"legend":null},"fill":{"condition":{"test":"datum.group === 'Young'","value":"#ffffff"},"value":"#E0455A"},"stroke":{"condition":{"test":"datum.group === 'Young'","value":"#8C8C8C"},"value":"#7A1A28"}}}
]}]},
{"title":{"text":"h","anchor":"start","fontSize":18,"fontWeight":"bold","dx":-14,"offset":6},
"vconcat":[{"title":{"text":"Indel","fontSize":13,"fontWeight":"bold","offset":0},"width":72,"height":165,
"encoding":{"x":{"field":"group","type":"nominal","scale":{"type":"band","domain":["Young","Old"],"paddingInner":0.3,"paddingOuter":0.25,"align":0.55},"axis":{"title":null,"labelAngle":0,"labelFontSize":13,"labelPadding":1,"tickSize":4}}},
"layer":[
{"data":{"name":"boxes"},"transform":[{"filter":"datum.panel === 'Indel'"}],"mark":{"type":"rule","color":"#222","strokeWidth":1.5},"encoding":{"y":{"field":"min","type":"quantitative","scale":{"domain":[0,5],"nice":false},"axis":{"title":"Number of in/del mutations","values":[0,1,2,3,4,5],"titleFontSize":12.5,"labelFontSize":12,"titleX":-15}},"y2":{"field":"max"}}},
{"data":{"name":"boxes"},"transform":[{"filter":"datum.panel === 'Indel'"}],"mark":{"type":"bar","stroke":"#222","strokeWidth":1.5},"encoding":{"y":{"field":"q1","type":"quantitative","scale":{"domain":[0,5],"nice":false},"axis":{"title":"Number of in/del mutations","values":[0,1,2,3,4,5],"titleFontSize":12.5,"labelFontSize":12,"titleX":-15}},"y2":{"field":"q3"},"color":{"condition":{"test":"datum.group === 'Young'","value":"#D9D9D9"},"value":"#EF4444"}}},
{"data":{"name":"boxes"},"transform":[{"filter":"datum.panel === 'Indel'"}],"mark":{"type":"tick","color":"#222","thickness":1.5,"size":23},"encoding":{"y":{"field":"median","type":"quantitative","scale":{"domain":[0,5],"nice":false},"axis":{"title":"Number of in/del mutations","values":[0,1,2,3,4,5],"titleFontSize":12.5,"labelFontSize":12,"titleX":-15}}}},
{"data":{"name":"boxes"},"transform":[{"filter":"datum.panel === 'Indel'"}],"mark":{"type":"tick","color":"#222","thickness":1.5,"size":9},"encoding":{"y":{"field":"max","type":"quantitative","scale":{"domain":[0,5],"nice":false},"axis":{"title":"Number of in/del mutations","values":[0,1,2,3,4,5],"titleFontSize":12.5,"labelFontSize":12,"titleX":-15}}}},
{"data":{"name":"boxes"},"transform":[{"filter":"datum.panel === 'Indel'"}],"mark":{"type":"tick","color":"#222","thickness":1.5,"size":9},"encoding":{"y":{"field":"min","type":"quantitative","scale":{"domain":[0,5],"nice":false},"axis":{"title":"Number of in/del mutations","values":[0,1,2,3,4,5],"titleFontSize":12.5,"labelFontSize":12,"titleX":-15}}}},
{"data":{"name":"pvals"},"transform":[{"filter":"datum.panel === 'Indel'"}],"mark":{"type":"rule","color":"#222","strokeWidth":1.3},"encoding":{"x2":{"field":"to"},"y":{"field":"level","type":"quantitative","scale":{"domain":[0,5],"nice":false},"axis":{"title":"Number of in/del mutations","values":[0,1,2,3,4,5],"titleFontSize":12.5,"labelFontSize":12,"titleX":-15}}}},
{"data":{"name":"pvals"},"transform":[{"filter":"datum.panel === 'Indel'"}],"mark":{"type":"text","fontSize":10.5,"baseline":"bottom","dy":-2,"color":"#222"},"encoding":{"x":{"field":"group","type":"nominal","bandPosition":1.214},"y":{"field":"level","type":"quantitative","scale":{"domain":[0,5],"nice":false},"axis":{"title":"Number of in/del mutations","values":[0,1,2,3,4,5],"titleFontSize":12.5,"labelFontSize":12,"titleX":-15}},"text":{"field":"label"}}},
{"data":{"name":"pts"},"transform":[{"filter":"datum.panel === 'Indel'"},{"window":[{"op":"row_number","as":"k"}],"groupby":["group","value"]}],"mark":{"type":"point","size":40,"strokeWidth":1.3,"opacity":1},"encoding":{"xOffset":{"field":"k","type":"nominal","scale":{"domain":[7,5,3,1,2,4,6],"range":[-9,32]}},"y":{"field":"value","type":"quantitative","scale":{"domain":[0,5],"nice":false},"axis":{"title":"Number of in/del mutations","values":[0,1,2,3,4,5],"titleFontSize":12.5,"labelFontSize":12,"titleX":-15}},"shape":{"field":"pop","type":"nominal","scale":{"domain":["Young","A4","A5","B6","B7","B10","C13"],"range":["circle","circle","square","triangle-down","diamond","circle","triangle-up"]},"legend":null},"fill":{"condition":{"test":"datum.group === 'Young'","value":"#ffffff"},"value":"#E0455A"},"stroke":{"condition":{"test":"datum.group === 'Young'","value":"#8C8C8C"},"value":"#7A1A28"}}}
]}]}
]}
]
}
